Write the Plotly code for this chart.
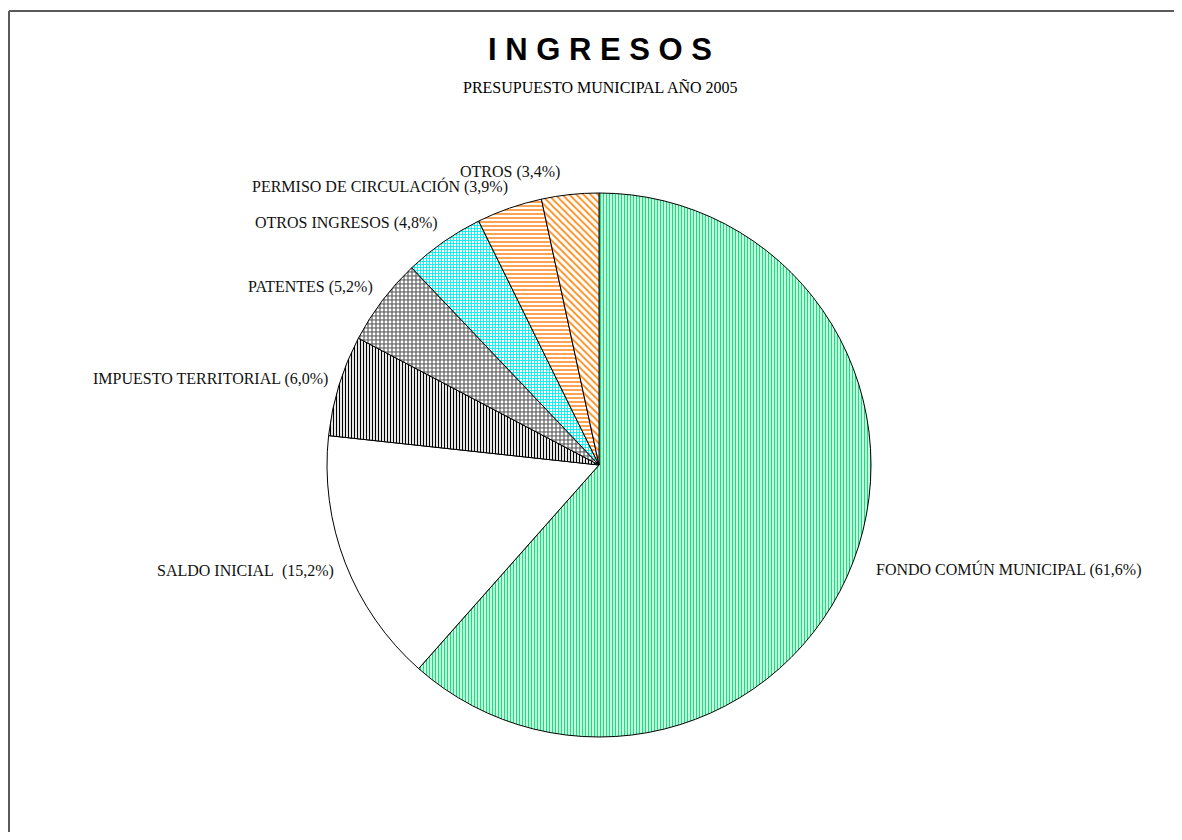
import math
import plotly.graph_objects as go

# ---- data ----
categories = ["FONDO COMÚN MUNICIPAL", "SALDO INICIAL\u00a0", "IMPUESTO TERRITORIAL",
              "PATENTES", "OTROS INGRESOS", "PERMISO DE CIRCULACIÓN", "OTROS"]
percent_values = [61.6, 15.2, 6.0, 5.2, 4.8, 3.9, 3.4]
title_text = "I N G R E S O S"
subtitle_text = "PRESUPUESTO MUNICIPAL AÑO 2005"

# ---- styles ----
pattern_shapes = ["|", "", "|", ".", "+", "-", "\\"]
pattern_fg = ["#14e07e", "#000000", "#000000", "#ffffff", "#00eeee", "#ff8c26", "#ff8c1a"]
pattern_bg = ["#ffffff", "#ffffff", "#ffffff", "#7a7a7a", "#ffffff", "#ffffff", "#ffffff"]
pattern_size = [3, 3, 3, 4, 3, 4, 5]
pattern_solid = [0.5, 0.3, 0.4, 0.4, 0.5, 0.4, 0.35]
label_nudge_x = [0, 0, 0, 0, 0, 0, -12]   # fine-tuning of label placement (px)

PAGE_OFF = 8            # page body margin in px (each side)
W, H = 1182 - 2 * PAGE_OFF, 840 - 2 * PAGE_OFF
CX, CY, R = 599, 465, 272  # pie centre / radius in page pixels


def px_x(x):
    return (x - PAGE_OFF) / W


def px_y(y):
    return 1 - (y - PAGE_OFF) / H


fig = go.Figure(go.Pie(
    values=percent_values,
    labels=categories,
    sort=False,
    direction="clockwise",
    rotation=0,
    textinfo="none",
    hoverinfo="label+percent",
    showlegend=False,
    domain=dict(x=[px_x(CX - R), px_x(CX + R)], y=[px_y(CY + R), px_y(CY - R)]),
    marker=dict(
        colors=["#ffffff"] * len(percent_values),
        line=dict(color="#000000", width=1),
        pattern=dict(shape=pattern_shapes, fgcolor=pattern_fg, bgcolor=pattern_bg,
                     size=pattern_size, solidity=pattern_solid, fillmode="replace"),
    ),
))

annotations = []
total = sum(percent_values)
cum = 0.0
LRX, LRY, XSHIFT = 288, 295, 6
for name, v, nud in zip(categories, percent_values, label_nudge_x):
    mid = (cum + v / 2) / total * 2 * math.pi
    cum += v
    dx, dy = math.sin(mid), -math.cos(mid)
    lx = CX + LRX * dx + XSHIFT + nud
    ly = CY + LRY * dy
    annotations.append(dict(
        x=px_x(lx), y=px_y(ly), xref="paper", yref="paper",
        text=f"{name} ({v:.1f}%)".replace(".", ","),
        showarrow=False, xanchor="right" if dx < 0 else "left", yanchor="middle",
        font=dict(family="Liberation Serif", size=16, color="#111111"),
    ))

annotations.append(dict(x=px_x(600), y=px_y(49), xref="paper", yref="paper", text=f"<b>{title_text}</b>",
                        showarrow=False, xanchor="center", yanchor="middle",
                        font=dict(family="Liberation Sans", size=31, color="#000000")))
annotations.append(dict(x=px_x(600), y=px_y(88), xref="paper", yref="paper", text=subtitle_text,
                        showarrow=False, xanchor="center", yanchor="middle",
                        font=dict(family="Liberation Serif", size=16, color="#000000")))

border = dict(color="#5a5a5a", width=2)
fig.update_layout(
    width=W, height=H,
    margin=dict(l=0, r=0, t=0, b=0),
    paper_bgcolor="#ffffff",
    annotations=annotations,
    shapes=[
        dict(type="line", xref="paper", yref="paper", x0=px_x(9), x1=1.0, y0=px_y(11), y1=px_y(11), line=border),
        dict(type="line", xref="paper", yref="paper", x0=px_x(9), x1=px_x(9), y0=0.0, y1=px_y(11), line=border),
    ],
)

fig.write_html("out.html")
